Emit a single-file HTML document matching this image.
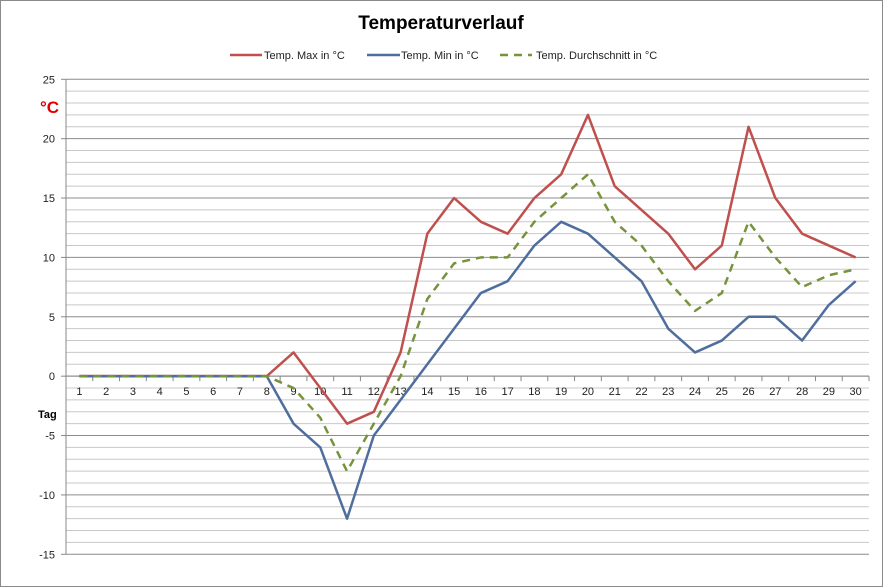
<!DOCTYPE html>
<html><head><meta charset="utf-8"><style>
html,body{margin:0;padding:0;background:#fff;}
svg{display:block;font-family:"Liberation Sans",sans-serif;}
</style></head><body>
<svg id="chart" width="883" height="587" viewBox="0 0 883 587">
<rect x="0.5" y="0.5" width="882" height="586" fill="#fff" stroke="#8a8a8a"/>
<text x="441" y="29" text-anchor="middle" font-size="19" font-weight="bold" fill="#000">Temperaturverlauf</text>
<g font-size="11" fill="#222">
<g><line x1="230" y1="55" x2="262" y2="55" stroke="#c0504d" stroke-width="2.5"/><text x="264" y="59">Temp. Max in °C</text></g>
<g><line x1="367" y1="55" x2="400" y2="55" stroke="#4f6e9e" stroke-width="2.5"/><text x="401" y="59">Temp. Min in °C</text></g>
<g><line x1="500" y1="55" x2="532" y2="55" stroke="#77933c" stroke-width="2.5" stroke-dasharray="8,6"/><text x="536" y="59">Temp. Durchschnitt in °C</text></g>
</g>
<text x="40" y="113" font-size="17" font-weight="bold" fill="#e00000">°C</text>
<text x="38" y="418" font-size="11" font-weight="bold" fill="#000">Tag</text>
<g id="grid"></g><g id="axes"></g><g id="series"></g>
</svg>
<script>
const days = [1,2,3,4,5,6,7,8,9,10,11,12,13,14,15,16,17,18,19,20,21,22,23,24,25,26,27,28,29,30];
const maxTemp = [0,0,0,0,0,0,0,0,2,-1,-4,-3,2,12,15,13,12,15,17,22,16,14,12,9,11,21,15,12,11,10];
const minTemp = [0,0,0,0,0,0,0,0,-4,-6,-12,-5,-2,1,4,7,8,11,13,12,10,8,4,2,3,5,5,3,6,8];
const avgTemp = [0,0,0,0,0,0,0,0,-1,-3.5,-8,-4,0,6.5,9.5,10,10,13,15,17,13,11,8,5.5,7,13,10,7.5,8.5,9];
const yTicks = [25,20,15,10,5,0,-5,-10,-15];
const yMin=-15,yMax=25;
const L=66,R=869,T=79.3,B=554.3;
const ns="http://www.w3.org/2000/svg";
function y(v){return T+(yMax-v)/(yMax-yMin)*(B-T);}
const cw=(R-L)/days.length;
function x(i){return L+cw*(i+0.5);}
function mk(tag,attrs,parent){const e=document.createElementNS(ns,tag);for(const k in attrs)e.setAttribute(k,attrs[k]);parent.appendChild(e);return e;}
const grid=document.getElementById('grid'),axes=document.getElementById('axes'),series=document.getElementById('series');
for(let v=yMin;v<=yMax;v++){
  const major=v%5===0;
  const g=mk('line',{x1:L,x2:R,y1:y(v),y2:y(v),stroke:major?'#8c8c8c':'#c8c8c8','stroke-width':1},grid);
  
  
}
yTicks.forEach(v=>{
  const t=mk('text',{x:55,y:y(v)+4,'text-anchor':'end','font-size':11,fill:'#222'},axes);
  t.textContent=v;
  
  
  const tk=mk('line',{x1:L-5,x2:L,y1:y(v),y2:y(v),stroke:'#888'},axes);
  
  
});
const ya=mk('line',{x1:L,x2:L,y1:T,y2:B,stroke:'#888'},axes);


const xa=mk('line',{x1:L,x2:R,y1:y(0),y2:y(0),stroke:'#888'},axes);


for(let i=0;i<=days.length;i++){
  const tk=mk('line',{x1:L+cw*i,x2:L+cw*i,y1:y(0),y2:y(0)+5,stroke:'#888'},axes);
  
  
}
days.forEach((d,i)=>{
  const t=mk('text',{x:x(i),y:y(0)+19,'text-anchor':'middle','font-size':11,fill:'#222'},axes);
  t.textContent=d;
  
  
});
function line(arr,color,dash,name){
  const p=mk('polyline',{points:arr.map((v,i)=>x(i)+','+y(v)).join(' '),fill:'none',stroke:color,'stroke-width':2.5,'stroke-linejoin':'round'},series);
  if(dash)p.setAttribute('stroke-dasharray',dash);
  
  
}
line(maxTemp,'#c0504d',null,'series-max-line');
line(minTemp,'#4f6e9e',null,'series-min-line');
line(avgTemp,'#77933c','8,6','series-avg-line');
</script>
</body></html>
